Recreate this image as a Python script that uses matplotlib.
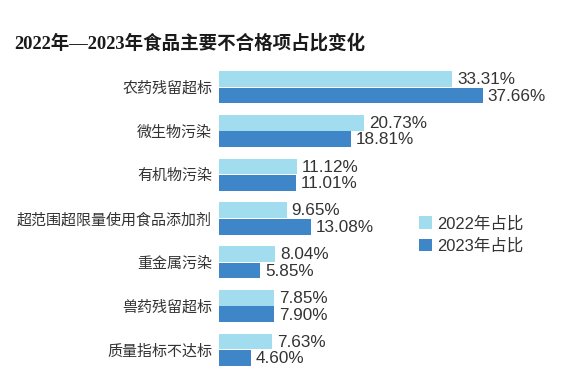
import numpy as np
import matplotlib
matplotlib.use("Agg")
import matplotlib.pyplot as plt

plt.rcParams['font.family'] = ['Liberation Sans', 'Noto Sans CJK SC', 'DejaVu Sans']

categories = ['农药残留超标', '微生物污染', '有机物污染', '超范围超限量使用食品添加剂',
              '重金属污染', '兽药残留超标', '质量指标不达标']
share_2022 = [33.31, 20.73, 11.12, 9.65, 8.04, 7.85, 7.63]
share_2023 = [37.66, 18.81, 11.01, 13.08, 5.85, 7.90, 4.60]
series_names = ['2022年占比', '2023年占比']

c_2022 = '#a2dcef'
c_2023 = '#3f86c9'
text_c = '#333333'

W, H = 579, 384
fig = plt.figure(figsize=(W / 100, H / 100), dpi=100)
fig.patch.set_facecolor('white')

# axes placed in pixel terms: bars start at x=219, rows span y=71..366
ax = fig.add_axes([219 / W, (H - 366) / H, (W - 219) / W, 295 / H])

y = np.arange(len(categories))
bh = 0.36
off = 0.19
b1 = ax.barh(y - off, share_2022, height=bh, color=c_2022, label=series_names[0])
b2 = ax.barh(y + off, share_2023, height=bh, color=c_2023, label=series_names[1])

for bars, vals in ((b1, share_2022), (b2, share_2023)):
    for rect, v in zip(bars, vals):
        ax.annotate(f'{v:.2f}%', (rect.get_width(), rect.get_y() + rect.get_height() / 2),
                    xytext=(3.5, -0.5), textcoords='offset points', ha='left', va='center',
                    fontsize=12.3, color=text_c)

ax.set_xlim(0, (W - 219) / 7.0)
ax.set_ylim(len(categories) - 1 + off + bh / 2, -off - bh / 2)
ax.set_yticks(y)
ax.set_yticklabels(categories, fontsize=10.8, color=text_c,
                   family=['Noto Sans CJK SC', 'DejaVu Sans'])
ax.tick_params(axis='y', length=0, pad=5)
ax.set_xticks([])
for s in ax.spines.values():
    s.set_visible(False)

fig.legend(handles=[b1, b2], labels=series_names, loc='upper left',
           bbox_to_anchor=(419 / W, 1 - 216 / H), frameon=False,
           handlelength=0.8, handleheight=0.8, handletextpad=0.3,
           labelspacing=0.42, borderpad=0, borderaxespad=0,
           prop={'size': 11.9, 'family': ['Liberation Sans', 'Noto Sans CJK SC']},
           labelcolor=text_c)

fig.text(14 / W, 1 - 43 / H, '2022年—2023年食品主要不合格项占比变化',
         fontsize=13.3, fontweight='bold', color='#1a1a1a', va='center', ha='left',
         family=['Liberation Serif', 'Noto Sans CJK SC'])

fig.savefig('out.png', dpi=100)
